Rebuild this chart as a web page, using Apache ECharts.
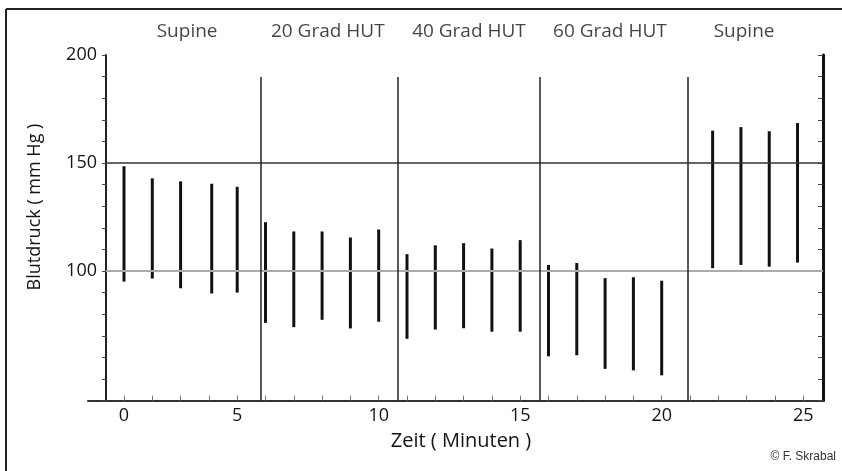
<!DOCTYPE html>
<html>
<head>
<meta charset="utf-8">
<script src="https://cdn.jsdelivr.net/npm/echarts@6/dist/echarts.min.js"></script>
<style>
  html, body { margin: 0; padding: 0; background: #fff; }
  #main { width: 842px; height: 471px; }
</style>
</head>
<body>
<div id="main"></div>
<script>
// Zeitpunkte (Minuten) und Blutdruck (mm Hg) - systolisch oben, diastolisch unten
var minutes   = [1, 2, 3, 4.1, 5,  6, 7, 8, 9, 10,  11, 12, 13, 14, 15,  16, 17, 18, 19, 20,  21.8, 22.8, 23.8, 24.8];
var systolic  = [148.5, 142.9, 141.5, 140.4, 139.0,  122.6, 118.3, 118.3, 115.5, 119.2,
                 107.8, 111.9, 112.9, 110.4, 114.3,  102.8, 103.7, 96.7, 97.1, 95.5,
                 165.0, 166.6, 164.7, 168.5];
var diastolic = [95.1, 96.5, 92.0, 89.6, 90.0,  76.0, 74.0, 77.4, 73.4, 76.5,
                 68.6, 72.9, 73.5, 71.9, 71.9,  60.5, 61.0, 54.7, 54.0, 51.7,
                 101.3, 102.8, 102.0, 103.9];

// Phasen
var phaseNames  = ['Supine', '20 Grad HUT', '40 Grad HUT', '60 Grad HUT', 'Supine'];
var phaseCenter = [3.23, 8.2, 13.19, 18.17, 22.91];
var phaseBounds = [5.83, 10.66, 15.70, 20.92];
var phaseTop = 189.8;

// Achsen
var xTickValues = [];
for (var t = 1; t <= 25; t++) xTickValues.push(t);
var xLabelAt   = [1, 5, 10, 15, 20, 25];
var xLabelText = ['0', '5', '10', '15', '20', '25'];
var yLabels = [100, 150, 200];
var refLines = [150, 100];

var xMin = -0.272, xMax = 25.7, yAxisAt = 0.364;
var FONT = '"Open Sans", sans-serif';
var TXT = '#141414';

var myChart = echarts.init(document.getElementById('main'));

var bars = [];
for (var i = 0; i < minutes.length; i++) {
    bars.push([minutes[i], diastolic[i], systolic[i]]);
}

var sepLines = [];
for (var j = 0; j < phaseBounds.length; j++) {
    sepLines.push([{coord: [phaseBounds[j], 40]}, {coord: [phaseBounds[j], phaseTop]}]);
}

var labelPts = [];
for (var k = 0; k < phaseNames.length; k++) {
    labelPts.push({value: [phaseCenter[k], 211], name: phaseNames[k]});
}

option = {
    animation: false,
    backgroundColor: '#fff',
    grid: { left: 88, right: 19, top: 55, bottom: 70.4, containLabel: false },
    xAxis: {
        type: 'value',
        min: xMin,
        max: xMax,
        axisLine: { lineStyle: { color: '#333', width: 2 } },
        axisTick: { show: true, inside: true, length: 5, customValues: xTickValues,
                    lineStyle: { color: '#777', width: 1 } },
        axisLabel: {
            customValues: xLabelAt,
            margin: 6,
            color: TXT,
            fontFamily: FONT,
            fontSize: 18,
            formatter: function (v) {
                var idx = xLabelAt.indexOf(v);
                return idx >= 0 ? xLabelText[idx] : '';
            }
        },
        splitLine: { show: false }
    },
    yAxis: [{
        type: 'value',
        min: 40,
        max: 200,
        interval: 10,
        position: 'left',
        offset: -18,
        axisLine: { show: true, lineStyle: { color: '#222', width: 2 } },
        axisTick: { show: true, length: 4, lineStyle: { color: '#444' } },
        axisLabel: { customValues: yLabels, margin: 9, color: TXT, fontFamily: FONT, fontSize: 18 },
        splitLine: { show: false }
    }, {
        type: 'value',
        min: 40,
        max: 200,
        interval: 10,
        position: 'right',
        axisLine: { show: true, lineStyle: { color: '#111', width: 3 } },
        axisTick: { show: true, inside: true, length: 5, lineStyle: { color: '#444' } },
        axisLabel: { show: false },
        splitLine: { show: false }
    }],
    graphic: [
        { type: 'line', shape: { x1: 6, y1: 9, x2: 842, y2: 9 }, style: { stroke: '#222', lineWidth: 2 } },
        { type: 'line', shape: { x1: 6, y1: 9, x2: 6, y2: 471 }, style: { stroke: '#222', lineWidth: 2 } },
        { type: 'text', x: 35, y: 207, rotation: Math.PI / 2,
          style: { text: 'Blutdruck ( mm Hg )', font: '18px ' + FONT, fill: TXT,
                   textAlign: 'center', textVerticalAlign: 'middle' } },
        { type: 'text', x: 461, y: 441,
          style: { text: 'Zeit ( Minuten )', font: '20px ' + FONT, fill: TXT,
                   textAlign: 'center', textVerticalAlign: 'middle' } },
        { type: 'text', x: 836, y: 457,
          style: { text: '\u00a9 F. Skrabal', font: '12px "Liberation Sans", Arial, sans-serif', fill: '#333',
                   textAlign: 'right', textVerticalAlign: 'middle' } }
    ],
    series: [{
        type: 'custom',
        name: 'Blutdruck',
        data: bars,
        renderItem: function (params, api) {
            var p1 = api.coord([api.value(0), api.value(1)]);
            var p2 = api.coord([api.value(0), api.value(2)]);
            return {
                type: 'line',
                shape: { x1: p1[0], y1: p1[1], x2: p2[0], y2: p2[1] },
                style: { stroke: '#111', lineWidth: 3 }
            };
        },
        markLine: {
            silent: true,
            symbol: 'none',
            label: { show: false },
            data: [
                [{coord: [yAxisAt, refLines[0]]}, {coord: [xMax, refLines[0]]}],
                [{coord: [yAxisAt, refLines[1]], lineStyle: {color: '#aaa', width: 2}},
                 {coord: [xMax, refLines[1]]}]
            ],
            lineStyle: { color: '#333', width: 1.5, type: 'solid' }
        }
    }, {
        type: 'line',
        data: [],
        silent: true,
        markLine: {
            silent: true,
            symbol: 'none',
            label: { show: false },
            data: sepLines,
            lineStyle: { color: '#222', width: 1.5, type: 'solid' }
        }
    }, {
        type: 'scatter',
        data: labelPts,
        symbolSize: 0,
        clip: false,
        silent: true,
        label: {
            show: true,
            position: 'inside',
            formatter: '{b}',
            color: TXT,
            fontFamily: FONT,
            fontSize: 19
        }
    }]
};

myChart.setOption(option);
</script>
</body>
</html>
